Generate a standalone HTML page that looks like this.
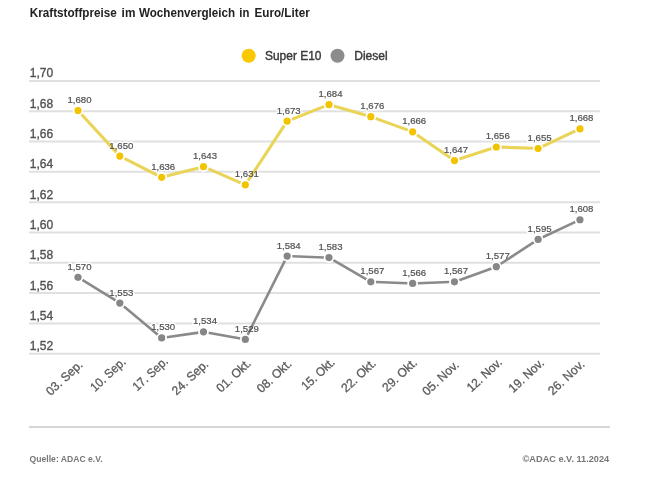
<!DOCTYPE html><html><head><meta charset="utf-8"><style>
html,body{margin:0;padding:0;background:#fff;}
body{width:650px;height:494px;overflow:hidden;position:relative;}
svg{position:absolute;left:0;top:0;filter:blur(0.4px);}
text{font-family:"Liberation Sans", Arial, sans-serif;}
</style></head><body>
<svg width="650" height="494" viewBox="0 0 650 494">
<text x="29.8" y="16.5" font-size="12.2" font-weight="bold" fill="#222" textLength="87" lengthAdjust="spacingAndGlyphs">Kraftstoffpreise</text>
<text x="121.6" y="16.5" font-size="12.2" font-weight="bold" fill="#222" textLength="13.8" lengthAdjust="spacingAndGlyphs">im</text>
<text x="138.9" y="16.5" font-size="12.2" font-weight="bold" fill="#222" textLength="96.3" lengthAdjust="spacingAndGlyphs">Wochenvergleich</text>
<text x="239.3" y="16.5" font-size="12.2" font-weight="bold" fill="#222" textLength="10.1" lengthAdjust="spacingAndGlyphs">in</text>
<text x="254.5" y="16.5" font-size="12.2" font-weight="bold" fill="#222" textLength="55.2" lengthAdjust="spacingAndGlyphs">Euro/Liter</text>
<circle cx="248.7" cy="55.8" r="7" fill="#fac800"/>
<text x="265" y="59.8" font-size="12" fill="#3a3a3a" stroke="#3a3a3a" stroke-width="0.4" textLength="56.5" lengthAdjust="spacingAndGlyphs">Super E10</text>
<circle cx="337.5" cy="55.8" r="7" fill="#8c8c8c"/>
<text x="354.2" y="59.8" font-size="12" fill="#3a3a3a" stroke="#3a3a3a" stroke-width="0.4" textLength="33.5" lengthAdjust="spacingAndGlyphs">Diesel</text>
<line x1="29" y1="80.90" x2="600" y2="80.90" stroke="#e0e0e0" stroke-width="2"/>
<text x="29.7" y="77.40" font-size="12.4" fill="#525252" stroke="#525252" stroke-width="0.35" textLength="23.5" lengthAdjust="spacingAndGlyphs">1,70</text>
<line x1="29" y1="111.21" x2="600" y2="111.21" stroke="#e0e0e0" stroke-width="2"/>
<text x="29.7" y="107.71" font-size="12.4" fill="#525252" stroke="#525252" stroke-width="0.35" textLength="23.5" lengthAdjust="spacingAndGlyphs">1,68</text>
<line x1="29" y1="141.52" x2="600" y2="141.52" stroke="#e0e0e0" stroke-width="2"/>
<text x="29.7" y="138.02" font-size="12.4" fill="#525252" stroke="#525252" stroke-width="0.35" textLength="23.5" lengthAdjust="spacingAndGlyphs">1,66</text>
<line x1="29" y1="171.83" x2="600" y2="171.83" stroke="#e0e0e0" stroke-width="2"/>
<text x="29.7" y="168.33" font-size="12.4" fill="#525252" stroke="#525252" stroke-width="0.35" textLength="23.5" lengthAdjust="spacingAndGlyphs">1,64</text>
<line x1="29" y1="202.14" x2="600" y2="202.14" stroke="#e0e0e0" stroke-width="2"/>
<text x="29.7" y="198.64" font-size="12.4" fill="#525252" stroke="#525252" stroke-width="0.35" textLength="23.5" lengthAdjust="spacingAndGlyphs">1,62</text>
<line x1="29" y1="232.45" x2="600" y2="232.45" stroke="#e0e0e0" stroke-width="2"/>
<text x="29.7" y="228.95" font-size="12.4" fill="#525252" stroke="#525252" stroke-width="0.35" textLength="23.5" lengthAdjust="spacingAndGlyphs">1,60</text>
<line x1="29" y1="262.76" x2="600" y2="262.76" stroke="#e0e0e0" stroke-width="2"/>
<text x="29.7" y="259.26" font-size="12.4" fill="#525252" stroke="#525252" stroke-width="0.35" textLength="23.5" lengthAdjust="spacingAndGlyphs">1,58</text>
<line x1="29" y1="293.07" x2="600" y2="293.07" stroke="#e0e0e0" stroke-width="2"/>
<text x="29.7" y="289.57" font-size="12.4" fill="#525252" stroke="#525252" stroke-width="0.35" textLength="23.5" lengthAdjust="spacingAndGlyphs">1,56</text>
<line x1="29" y1="323.38" x2="600" y2="323.38" stroke="#e0e0e0" stroke-width="2"/>
<text x="29.7" y="319.88" font-size="12.4" fill="#525252" stroke="#525252" stroke-width="0.35" textLength="23.5" lengthAdjust="spacingAndGlyphs">1,54</text>
<line x1="29" y1="353.69" x2="600" y2="353.69" stroke="#e0e0e0" stroke-width="2"/>
<text x="29.7" y="350.19" font-size="12.4" fill="#525252" stroke="#525252" stroke-width="0.35" textLength="23.5" lengthAdjust="spacingAndGlyphs">1,52</text>
<text x="79.50" y="103.11" font-size="9.6" fill="#fff" text-anchor="middle" stroke="#fff" stroke-width="3" stroke-linejoin="round">1,680</text>
<text x="121.33" y="148.58" font-size="9.6" fill="#fff" text-anchor="middle" stroke="#fff" stroke-width="3" stroke-linejoin="round">1,650</text>
<text x="163.16" y="169.79" font-size="9.6" fill="#fff" text-anchor="middle" stroke="#fff" stroke-width="3" stroke-linejoin="round">1,636</text>
<text x="204.99" y="159.18" font-size="9.6" fill="#fff" text-anchor="middle" stroke="#fff" stroke-width="3" stroke-linejoin="round">1,643</text>
<text x="246.82" y="177.37" font-size="9.6" fill="#fff" text-anchor="middle" stroke="#fff" stroke-width="3" stroke-linejoin="round">1,631</text>
<text x="288.65" y="113.72" font-size="9.6" fill="#fff" text-anchor="middle" stroke="#fff" stroke-width="3" stroke-linejoin="round">1,673</text>
<text x="330.48" y="97.05" font-size="9.6" fill="#fff" text-anchor="middle" stroke="#fff" stroke-width="3" stroke-linejoin="round">1,684</text>
<text x="372.31" y="109.17" font-size="9.6" fill="#fff" text-anchor="middle" stroke="#fff" stroke-width="3" stroke-linejoin="round">1,676</text>
<text x="414.14" y="124.33" font-size="9.6" fill="#fff" text-anchor="middle" stroke="#fff" stroke-width="3" stroke-linejoin="round">1,666</text>
<text x="455.97" y="153.12" font-size="9.6" fill="#fff" text-anchor="middle" stroke="#fff" stroke-width="3" stroke-linejoin="round">1,647</text>
<text x="497.80" y="139.48" font-size="9.6" fill="#fff" text-anchor="middle" stroke="#fff" stroke-width="3" stroke-linejoin="round">1,656</text>
<text x="539.63" y="141.00" font-size="9.6" fill="#fff" text-anchor="middle" stroke="#fff" stroke-width="3" stroke-linejoin="round">1,655</text>
<text x="581.46" y="121.30" font-size="9.6" fill="#fff" text-anchor="middle" stroke="#fff" stroke-width="3" stroke-linejoin="round">1,668</text>
<text x="79.50" y="269.81" font-size="9.6" fill="#fff" text-anchor="middle" stroke="#fff" stroke-width="3" stroke-linejoin="round">1,570</text>
<text x="121.33" y="295.58" font-size="9.6" fill="#fff" text-anchor="middle" stroke="#fff" stroke-width="3" stroke-linejoin="round">1,553</text>
<text x="163.16" y="330.43" font-size="9.6" fill="#fff" text-anchor="middle" stroke="#fff" stroke-width="3" stroke-linejoin="round">1,530</text>
<text x="204.99" y="324.37" font-size="9.6" fill="#fff" text-anchor="middle" stroke="#fff" stroke-width="3" stroke-linejoin="round">1,534</text>
<text x="246.82" y="331.95" font-size="9.6" fill="#fff" text-anchor="middle" stroke="#fff" stroke-width="3" stroke-linejoin="round">1,529</text>
<text x="288.65" y="248.60" font-size="9.6" fill="#fff" text-anchor="middle" stroke="#fff" stroke-width="3" stroke-linejoin="round">1,584</text>
<text x="330.48" y="250.11" font-size="9.6" fill="#fff" text-anchor="middle" stroke="#fff" stroke-width="3" stroke-linejoin="round">1,583</text>
<text x="372.31" y="274.36" font-size="9.6" fill="#fff" text-anchor="middle" stroke="#fff" stroke-width="3" stroke-linejoin="round">1,567</text>
<text x="414.14" y="275.88" font-size="9.6" fill="#fff" text-anchor="middle" stroke="#fff" stroke-width="3" stroke-linejoin="round">1,566</text>
<text x="455.97" y="274.36" font-size="9.6" fill="#fff" text-anchor="middle" stroke="#fff" stroke-width="3" stroke-linejoin="round">1,567</text>
<text x="497.80" y="259.21" font-size="9.6" fill="#fff" text-anchor="middle" stroke="#fff" stroke-width="3" stroke-linejoin="round">1,577</text>
<text x="539.63" y="231.93" font-size="9.6" fill="#fff" text-anchor="middle" stroke="#fff" stroke-width="3" stroke-linejoin="round">1,595</text>
<text x="581.46" y="212.23" font-size="9.6" fill="#fff" text-anchor="middle" stroke="#fff" stroke-width="3" stroke-linejoin="round">1,608</text>
<line x1="81.39" y1="114.29" x2="116.44" y2="152.40" stroke="#e9d458" stroke-width="3.1" stroke-linecap="butt"/>
<line x1="124.29" y1="158.34" x2="157.20" y2="175.03" stroke="#e9d458" stroke-width="3.1" stroke-linecap="butt"/>
<line x1="166.51" y1="176.06" x2="198.64" y2="167.91" stroke="#e9d458" stroke-width="3.1" stroke-linecap="butt"/>
<line x1="208.08" y1="168.68" x2="240.73" y2="182.88" stroke="#e9d458" stroke-width="3.1" stroke-linecap="butt"/>
<line x1="248.07" y1="180.69" x2="284.40" y2="125.40" stroke="#e9d458" stroke-width="3.1" stroke-linecap="butt"/>
<line x1="291.79" y1="119.37" x2="324.34" y2="106.40" stroke="#e9d458" stroke-width="3.1" stroke-linecap="butt"/>
<line x1="333.78" y1="105.94" x2="366.01" y2="115.28" stroke="#e9d458" stroke-width="3.1" stroke-linecap="butt"/>
<line x1="375.51" y1="118.38" x2="407.94" y2="130.12" stroke="#e9d458" stroke-width="3.1" stroke-linecap="butt"/>
<line x1="416.76" y1="134.66" x2="450.35" y2="157.79" stroke="#e9d458" stroke-width="3.1" stroke-linecap="butt"/>
<line x1="459.22" y1="159.07" x2="491.55" y2="148.53" stroke="#e9d458" stroke-width="3.1" stroke-linecap="butt"/>
<line x1="501.30" y1="147.16" x2="533.13" y2="148.32" stroke="#e9d458" stroke-width="3.1" stroke-linecap="butt"/>
<line x1="542.65" y1="146.37" x2="575.44" y2="130.93" stroke="#e9d458" stroke-width="3.1" stroke-linecap="butt"/>
<circle cx="78.00" cy="110.61" r="5.2" fill="#fff"/>
<circle cx="78.00" cy="110.61" r="3.6" fill="#f2c400"/>
<circle cx="119.83" cy="156.08" r="5.2" fill="#fff"/>
<circle cx="119.83" cy="156.08" r="3.6" fill="#f2c400"/>
<circle cx="161.66" cy="177.29" r="5.2" fill="#fff"/>
<circle cx="161.66" cy="177.29" r="3.6" fill="#f2c400"/>
<circle cx="203.49" cy="166.68" r="5.2" fill="#fff"/>
<circle cx="203.49" cy="166.68" r="3.6" fill="#f2c400"/>
<circle cx="245.32" cy="184.87" r="5.2" fill="#fff"/>
<circle cx="245.32" cy="184.87" r="3.6" fill="#f2c400"/>
<circle cx="287.15" cy="121.22" r="5.2" fill="#fff"/>
<circle cx="287.15" cy="121.22" r="3.6" fill="#f2c400"/>
<circle cx="328.98" cy="104.55" r="5.2" fill="#fff"/>
<circle cx="328.98" cy="104.55" r="3.6" fill="#f2c400"/>
<circle cx="370.81" cy="116.67" r="5.2" fill="#fff"/>
<circle cx="370.81" cy="116.67" r="3.6" fill="#f2c400"/>
<circle cx="412.64" cy="131.83" r="5.2" fill="#fff"/>
<circle cx="412.64" cy="131.83" r="3.6" fill="#f2c400"/>
<circle cx="454.47" cy="160.62" r="5.2" fill="#fff"/>
<circle cx="454.47" cy="160.62" r="3.6" fill="#f2c400"/>
<circle cx="496.30" cy="146.98" r="5.2" fill="#fff"/>
<circle cx="496.30" cy="146.98" r="3.6" fill="#f2c400"/>
<circle cx="538.13" cy="148.50" r="5.2" fill="#fff"/>
<circle cx="538.13" cy="148.50" r="3.6" fill="#f2c400"/>
<circle cx="579.96" cy="128.80" r="5.2" fill="#fff"/>
<circle cx="579.96" cy="128.80" r="3.6" fill="#f2c400"/>
<line x1="82.26" y1="279.94" x2="115.57" y2="300.46" stroke="#8a8a8a" stroke-width="2.6" stroke-linecap="butt"/>
<line x1="123.67" y1="306.28" x2="157.82" y2="334.73" stroke="#8a8a8a" stroke-width="2.6" stroke-linecap="butt"/>
<line x1="166.61" y1="337.22" x2="198.54" y2="332.59" stroke="#8a8a8a" stroke-width="2.6" stroke-linecap="butt"/>
<line x1="208.41" y1="332.76" x2="240.40" y2="338.56" stroke="#8a8a8a" stroke-width="2.6" stroke-linecap="butt"/>
<line x1="247.56" y1="334.98" x2="284.91" y2="260.57" stroke="#8a8a8a" stroke-width="2.6" stroke-linecap="butt"/>
<line x1="292.15" y1="256.28" x2="323.98" y2="257.43" stroke="#8a8a8a" stroke-width="2.6" stroke-linecap="butt"/>
<line x1="333.31" y1="260.12" x2="366.48" y2="279.35" stroke="#8a8a8a" stroke-width="2.6" stroke-linecap="butt"/>
<line x1="375.81" y1="282.04" x2="407.64" y2="283.20" stroke="#8a8a8a" stroke-width="2.6" stroke-linecap="butt"/>
<line x1="417.64" y1="283.20" x2="449.47" y2="282.04" stroke="#8a8a8a" stroke-width="2.6" stroke-linecap="butt"/>
<line x1="459.17" y1="280.16" x2="491.60" y2="268.41" stroke="#8a8a8a" stroke-width="2.6" stroke-linecap="butt"/>
<line x1="500.49" y1="263.98" x2="533.94" y2="242.16" stroke="#8a8a8a" stroke-width="2.6" stroke-linecap="butt"/>
<line x1="542.65" y1="237.30" x2="575.44" y2="221.86" stroke="#8a8a8a" stroke-width="2.6" stroke-linecap="butt"/>
<circle cx="78.00" cy="277.31" r="5.2" fill="#fff"/>
<circle cx="78.00" cy="277.31" r="3.6" fill="#868686"/>
<circle cx="119.83" cy="303.08" r="5.2" fill="#fff"/>
<circle cx="119.83" cy="303.08" r="3.6" fill="#868686"/>
<circle cx="161.66" cy="337.93" r="5.2" fill="#fff"/>
<circle cx="161.66" cy="337.93" r="3.6" fill="#868686"/>
<circle cx="203.49" cy="331.87" r="5.2" fill="#fff"/>
<circle cx="203.49" cy="331.87" r="3.6" fill="#868686"/>
<circle cx="245.32" cy="339.45" r="5.2" fill="#fff"/>
<circle cx="245.32" cy="339.45" r="3.6" fill="#868686"/>
<circle cx="287.15" cy="256.10" r="5.2" fill="#fff"/>
<circle cx="287.15" cy="256.10" r="3.6" fill="#868686"/>
<circle cx="328.98" cy="257.61" r="5.2" fill="#fff"/>
<circle cx="328.98" cy="257.61" r="3.6" fill="#868686"/>
<circle cx="370.81" cy="281.86" r="5.2" fill="#fff"/>
<circle cx="370.81" cy="281.86" r="3.6" fill="#868686"/>
<circle cx="412.64" cy="283.38" r="5.2" fill="#fff"/>
<circle cx="412.64" cy="283.38" r="3.6" fill="#868686"/>
<circle cx="454.47" cy="281.86" r="5.2" fill="#fff"/>
<circle cx="454.47" cy="281.86" r="3.6" fill="#868686"/>
<circle cx="496.30" cy="266.71" r="5.2" fill="#fff"/>
<circle cx="496.30" cy="266.71" r="3.6" fill="#868686"/>
<circle cx="538.13" cy="239.43" r="5.2" fill="#fff"/>
<circle cx="538.13" cy="239.43" r="3.6" fill="#868686"/>
<circle cx="579.96" cy="219.73" r="5.2" fill="#fff"/>
<circle cx="579.96" cy="219.73" r="3.6" fill="#868686"/>
<text x="79.50" y="103.11" font-size="9.6" fill="#505050" text-anchor="middle" stroke="#505050" stroke-width="0.2">1,680</text>
<text x="121.33" y="148.58" font-size="9.6" fill="#505050" text-anchor="middle" stroke="#505050" stroke-width="0.2">1,650</text>
<text x="163.16" y="169.79" font-size="9.6" fill="#505050" text-anchor="middle" stroke="#505050" stroke-width="0.2">1,636</text>
<text x="204.99" y="159.18" font-size="9.6" fill="#505050" text-anchor="middle" stroke="#505050" stroke-width="0.2">1,643</text>
<text x="246.82" y="177.37" font-size="9.6" fill="#505050" text-anchor="middle" stroke="#505050" stroke-width="0.2">1,631</text>
<text x="288.65" y="113.72" font-size="9.6" fill="#505050" text-anchor="middle" stroke="#505050" stroke-width="0.2">1,673</text>
<text x="330.48" y="97.05" font-size="9.6" fill="#505050" text-anchor="middle" stroke="#505050" stroke-width="0.2">1,684</text>
<text x="372.31" y="109.17" font-size="9.6" fill="#505050" text-anchor="middle" stroke="#505050" stroke-width="0.2">1,676</text>
<text x="414.14" y="124.33" font-size="9.6" fill="#505050" text-anchor="middle" stroke="#505050" stroke-width="0.2">1,666</text>
<text x="455.97" y="153.12" font-size="9.6" fill="#505050" text-anchor="middle" stroke="#505050" stroke-width="0.2">1,647</text>
<text x="497.80" y="139.48" font-size="9.6" fill="#505050" text-anchor="middle" stroke="#505050" stroke-width="0.2">1,656</text>
<text x="539.63" y="141.00" font-size="9.6" fill="#505050" text-anchor="middle" stroke="#505050" stroke-width="0.2">1,655</text>
<text x="581.46" y="121.30" font-size="9.6" fill="#505050" text-anchor="middle" stroke="#505050" stroke-width="0.2">1,668</text>
<text x="79.50" y="269.81" font-size="9.6" fill="#505050" text-anchor="middle" stroke="#505050" stroke-width="0.2">1,570</text>
<text x="121.33" y="295.58" font-size="9.6" fill="#505050" text-anchor="middle" stroke="#505050" stroke-width="0.2">1,553</text>
<text x="163.16" y="330.43" font-size="9.6" fill="#505050" text-anchor="middle" stroke="#505050" stroke-width="0.2">1,530</text>
<text x="204.99" y="324.37" font-size="9.6" fill="#505050" text-anchor="middle" stroke="#505050" stroke-width="0.2">1,534</text>
<text x="246.82" y="331.95" font-size="9.6" fill="#505050" text-anchor="middle" stroke="#505050" stroke-width="0.2">1,529</text>
<text x="288.65" y="248.60" font-size="9.6" fill="#505050" text-anchor="middle" stroke="#505050" stroke-width="0.2">1,584</text>
<text x="330.48" y="250.11" font-size="9.6" fill="#505050" text-anchor="middle" stroke="#505050" stroke-width="0.2">1,583</text>
<text x="372.31" y="274.36" font-size="9.6" fill="#505050" text-anchor="middle" stroke="#505050" stroke-width="0.2">1,567</text>
<text x="414.14" y="275.88" font-size="9.6" fill="#505050" text-anchor="middle" stroke="#505050" stroke-width="0.2">1,566</text>
<text x="455.97" y="274.36" font-size="9.6" fill="#505050" text-anchor="middle" stroke="#505050" stroke-width="0.2">1,567</text>
<text x="497.80" y="259.21" font-size="9.6" fill="#505050" text-anchor="middle" stroke="#505050" stroke-width="0.2">1,577</text>
<text x="539.63" y="231.93" font-size="9.6" fill="#505050" text-anchor="middle" stroke="#505050" stroke-width="0.2">1,595</text>
<text x="581.46" y="212.23" font-size="9.6" fill="#505050" text-anchor="middle" stroke="#505050" stroke-width="0.2">1,608</text>
<text x="83.50" y="365.60" font-size="12.4" fill="#5a5a5a" stroke="#5a5a5a" stroke-width="0.3" text-anchor="end" textLength="44.80" lengthAdjust="spacingAndGlyphs" transform="rotate(-43 83.50 365.60)">03. Sep.</text>
<text x="126.50" y="362.90" font-size="12.4" fill="#5a5a5a" stroke="#5a5a5a" stroke-width="0.3" text-anchor="end" textLength="43.00" lengthAdjust="spacingAndGlyphs" transform="rotate(-43 126.50 362.90)">10. Sep.</text>
<text x="168.80" y="362.20" font-size="12.4" fill="#5a5a5a" stroke="#5a5a5a" stroke-width="0.3" text-anchor="end" textLength="43.00" lengthAdjust="spacingAndGlyphs" transform="rotate(-43 168.80 362.20)">17. Sep.</text>
<text x="209.30" y="365.20" font-size="12.4" fill="#5a5a5a" stroke="#5a5a5a" stroke-width="0.3" text-anchor="end" textLength="44.80" lengthAdjust="spacingAndGlyphs" transform="rotate(-43 209.30 365.20)">24. Sep.</text>
<text x="251.80" y="364.30" font-size="12.4" fill="#5a5a5a" stroke="#5a5a5a" stroke-width="0.3" text-anchor="end" textLength="42.12" lengthAdjust="spacingAndGlyphs" transform="rotate(-43 251.80 364.30)">01. Okt.</text>
<text x="292.40" y="364.80" font-size="12.4" fill="#5a5a5a" stroke="#5a5a5a" stroke-width="0.3" text-anchor="end" textLength="42.12" lengthAdjust="spacingAndGlyphs" transform="rotate(-43 292.40 364.80)">08. Okt.</text>
<text x="335.60" y="363.30" font-size="12.4" fill="#5a5a5a" stroke="#5a5a5a" stroke-width="0.3" text-anchor="end" textLength="40.32" lengthAdjust="spacingAndGlyphs" transform="rotate(-43 335.60 363.30)">15. Okt.</text>
<text x="376.80" y="364.30" font-size="12.4" fill="#5a5a5a" stroke="#5a5a5a" stroke-width="0.3" text-anchor="end" textLength="42.12" lengthAdjust="spacingAndGlyphs" transform="rotate(-43 376.80 364.30)">22. Okt.</text>
<text x="417.90" y="363.70" font-size="12.4" fill="#5a5a5a" stroke="#5a5a5a" stroke-width="0.3" text-anchor="end" textLength="42.12" lengthAdjust="spacingAndGlyphs" transform="rotate(-43 417.90 363.70)">29. Okt.</text>
<text x="459.80" y="365.80" font-size="12.4" fill="#5a5a5a" stroke="#5a5a5a" stroke-width="0.3" text-anchor="end" textLength="44.79" lengthAdjust="spacingAndGlyphs" transform="rotate(-43 459.80 365.80)">05. Nov.</text>
<text x="502.90" y="363.30" font-size="12.4" fill="#5a5a5a" stroke="#5a5a5a" stroke-width="0.3" text-anchor="end" textLength="42.99" lengthAdjust="spacingAndGlyphs" transform="rotate(-43 502.90 363.30)">12. Nov.</text>
<text x="544.80" y="363.90" font-size="12.4" fill="#5a5a5a" stroke="#5a5a5a" stroke-width="0.3" text-anchor="end" textLength="42.99" lengthAdjust="spacingAndGlyphs" transform="rotate(-43 544.80 363.90)">19. Nov.</text>
<text x="585.40" y="365.20" font-size="12.4" fill="#5a5a5a" stroke="#5a5a5a" stroke-width="0.3" text-anchor="end" textLength="44.79" lengthAdjust="spacingAndGlyphs" transform="rotate(-43 585.40 365.20)">26. Nov.</text>
<line x1="29" y1="427" x2="610" y2="427" stroke="#d6d6d6" stroke-width="2"/>
<text x="29.6" y="462.3" font-size="9.5" fill="#777" font-weight="bold" textLength="73" lengthAdjust="spacingAndGlyphs">Quelle: ADAC e.V.</text>
<text x="522.6" y="462.3" font-size="9.5" fill="#777" font-weight="bold" textLength="86.6" lengthAdjust="spacingAndGlyphs">©ADAC e.V. 11.2024</text>
</svg></body></html>
